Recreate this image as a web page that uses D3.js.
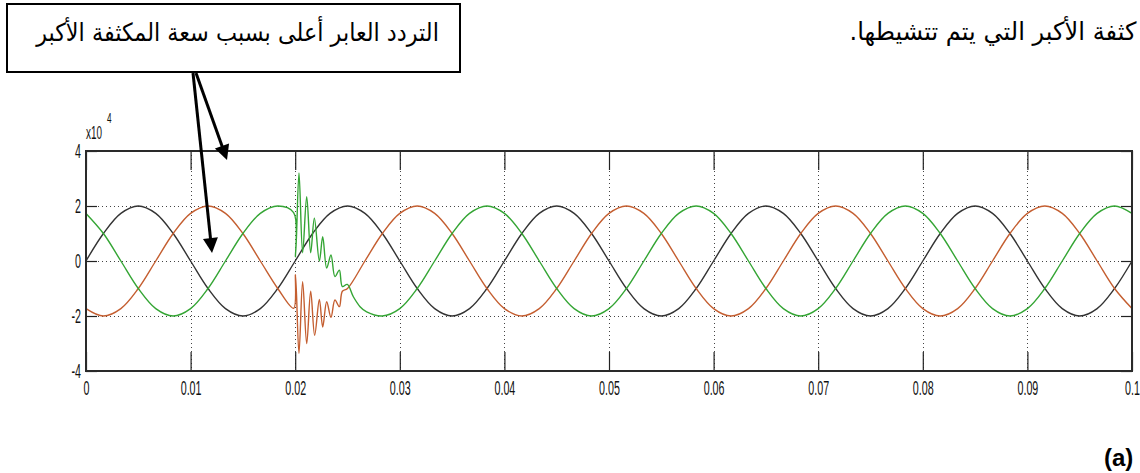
<!DOCTYPE html>
<html>
<head>
<meta charset="utf-8">
<script src="https://cdn.jsdelivr.net/npm/d3@7"></script>
<style>
  html, body { margin: 0; padding: 0; background: #fff; overflow: hidden; }
  svg { display: block; }
</style>
</head>
<body>
<svg id="chart" width="1140" height="473"></svg>
<script>
// Three-phase capacitor voltages (units of 10^4), one sample every 30 electrical degrees at 50 Hz
const sampleStep = 0.02 / 12;

const phaseA = [
  0, 1, 1.73, 2, 1.73, 1, 0, -1, -1.73, -2, -1.73, -1,
  0, 1, 1.73, 2, 1.73, 1, 0, -1, -1.73, -2, -1.73, -1,
  0, 1, 1.73, 2, 1.73, 1, 0, -1, -1.73, -2, -1.73, -1,
  0, 1, 1.73, 2, 1.73, 1, 0, -1, -1.73, -2, -1.73, -1,
  0, 1, 1.73, 2, 1.73, 1, 0, -1, -1.73, -2, -1.73, -1,
  0
];

const phaseB = [
  -1.73, -2, -1.73, -1, 0, 1, 1.73, 2, 1.73, 1, 0, -1,
  -1.73, -2, -1.73, -1, 0, 1, 1.73, 2, 1.73, 1, 0, -1,
  -1.73, -2, -1.73, -1, 0, 1, 1.73, 2, 1.73, 1, 0, -1,
  -1.73, -2, -1.73, -1, 0, 1, 1.73, 2, 1.73, 1, 0, -1,
  -1.73, -2, -1.73, -1, 0, 1, 1.73, 2, 1.73, 1, 0, -1,
  -1.73
];

const phaseC = [
  1.73, 1, 0, -1, -1.73, -2, -1.73, -1, 0, 1, 1.73, 2,
  1.73, 1, 0, -1, -1.73, -2, -1.73, -1, 0, 1, 1.73, 2,
  1.73, 1, 0, -1, -1.73, -2, -1.73, -1, 0, 1, 1.73, 2,
  1.73, 1, 0, -1, -1.73, -2, -1.73, -1, 0, 1, 1.73, 2,
  1.73, 1, 0, -1, -1.73, -2, -1.73, -1, 0, 1, 1.73, 2,
  1.73
];

// Switching transient when the larger capacitor is energised at t = 0.02 s: [time, value]
const phaseBTransient = [
  [0.01985, -1.72], [0.02003, -0.50], [0.02036, -3.36], [0.02071, -0.75],
  [0.02110, -3.00], [0.02148, -1.10], [0.02186, -2.70], [0.02231, -1.40],
  [0.02263, -2.40], [0.02301, -1.48], [0.02342, -2.05], [0.02380, -1.42],
  [0.02422, -1.66], [0.02451, -1.10]
];

const phaseCTransient = [
  [0.01985, 1.76], [0.02003, 0.15], [0.02036, 3.20], [0.02071, 0.30],
  [0.02110, 2.34], [0.02148, 0.30], [0.02183, 1.56], [0.02231, 0.00],
  [0.02263, 0.88], [0.02301, -0.26], [0.02342, 0.22], [0.02380, -0.57],
  [0.02422, -0.33], [0.02451, -0.93], [0.02498, -0.85], [0.02556, -1.30],
  [0.02620, -1.66], [0.02683, -1.85]
];

const xTicks = [0, 0.01, 0.02, 0.03, 0.04, 0.05, 0.06, 0.07, 0.08, 0.09, 0.1];
const xTickLabels = ["0", "0.01", "0.02", "0.03", "0.04", "0.05", "0.06", "0.07", "0.08", "0.09", "0.1"];
const yTicks = [-4, -2, 0, 2, 4];
const yTickLabels = ["-4", "-2", "0", "2", "4"];
const yExponent = "4";

const calloutText = "التردد العابر أعلى بسبب سعة المكثفة الأكبر";
const paragraphText = "كثفة الأكبر التي يتم تتشيطها.";
const panelLabel = "(a)";

const seriesColors = { A: "#333333", B: "#c45e30", C: "#34a534" };

// ---------------------------------------------------------------------------
const svg = d3.select("#chart");
const plot = { left: 86, right: 1132, top: 151, bottom: 371 };

const x = d3.scaleLinear().domain([0, 0.1]).range([plot.left, plot.right]);
const y = d3.scaleLinear().domain([-4, 4]).range([plot.bottom, plot.top]);

const labelFont = "'Liberation Sans', Arial, sans-serif";
const labelScale = 0.55;

// grid
const grid = svg.append("g").attr("stroke", "#444").attr("stroke-width", 1)
  .attr("stroke-dasharray", "1,3");
grid.selectAll("line.gx").data(xTicks.slice(1, -1)).join("line")
  .attr("x1", d => Math.round(x(d)) + 0.5).attr("x2", d => Math.round(x(d)) + 0.5)
  .attr("y1", plot.top).attr("y2", plot.bottom);
grid.selectAll("line.gy").data([-2, 0, 2]).join("line")
  .attr("x1", plot.left).attr("x2", plot.right)
  .attr("y1", d => Math.round(y(d)) + 0.5).attr("y2", d => Math.round(y(d)) + 0.5);

// axes with inward ticks
function styleAxis(g) {
  g.select(".domain").remove();
  g.selectAll(".tick line").attr("stroke", "#222").attr("stroke-width", 1.2);
  g.selectAll(".tick text").attr("fill", "#111")
    .style("font-family", labelFont).style("font-size", "19.5px");
}
const xAxisBottom = svg.append("g").attr("transform", `translate(0,${plot.bottom})`)
  .call(d3.axisBottom(x).tickValues(xTicks).tickFormat((d, i) => xTickLabels[i])
    .tickSizeInner(-19).tickSizeOuter(0).tickPadding(10));
styleAxis(xAxisBottom);
xAxisBottom.selectAll(".tick text").attr("transform", `scale(${labelScale},1)`);

const xAxisTop = svg.append("g").attr("transform", `translate(0,${plot.top})`)
  .call(d3.axisTop(x).tickValues(xTicks).tickFormat("").tickSizeInner(-19).tickSizeOuter(0));
styleAxis(xAxisTop);

const yAxisLeft = svg.append("g").attr("transform", `translate(${plot.left},0)`)
  .call(d3.axisLeft(y).tickValues(yTicks).tickFormat((d, i) => yTickLabels[i])
    .tickSizeInner(-11).tickSizeOuter(0).tickPadding(5));
styleAxis(yAxisLeft);
yAxisLeft.selectAll(".tick text")
  .attr("x", -5 / labelScale).attr("transform", `scale(${labelScale},1)`);

const yAxisRight = svg.append("g").attr("transform", `translate(${plot.right},0)`)
  .call(d3.axisRight(y).tickValues(yTicks).tickFormat("").tickSizeInner(-11).tickSizeOuter(0));
styleAxis(yAxisRight);

// exponent label
const expo = svg.append("g").attr("transform", `translate(${plot.left},139) scale(${labelScale},1)`)
  .style("font-family", labelFont).attr("fill", "#111");
expo.append("text").attr("x", 0).attr("y", 0).style("font-size", "18px").text("x10");
expo.append("text").attr("x", 38).attr("y", -16).style("font-size", "15px").text(yExponent);

// series
function buildSeries(values, transient) {
  const base = values.map((v, i) => [i * sampleStep, v]);
  if (!transient) return base;
  const t0 = transient[0][0], t1 = transient[transient.length - 1][0];
  return base.filter(d => d[0] < t0).concat(transient, base.filter(d => d[0] > t1));
}
const line = d3.line().x(d => x(d[0])).y(d => y(d[1])).curve(d3.curveCatmullRom.alpha(0.5));

const series = [
  { key: "A", data: buildSeries(phaseA) },
  { key: "B", data: buildSeries(phaseB, phaseBTransient) },
  { key: "C", data: buildSeries(phaseC, phaseCTransient) }
];
svg.append("g").selectAll("path").data(series).join("path")
  .attr("d", d => line(d.data))
  .attr("fill", "none")
  .attr("stroke", d => seriesColors[d.key])
  .attr("stroke-width", 1.4)
  .attr("stroke-linejoin", "round");

// frame
svg.append("rect")
  .attr("x", plot.left).attr("y", plot.top)
  .attr("width", plot.right - plot.left).attr("height", plot.bottom - plot.top)
  .attr("fill", "none").attr("stroke", "#2a2a2a").attr("stroke-width", 2);

// callout box with its text
svg.append("rect").attr("x", 7).attr("y", 4).attr("width", 453).attr("height", 68)
  .attr("fill", "#fff").attr("stroke", "#000").attr("stroke-width", 2);

const arabicFont = "'DejaVu Sans', 'Noto Sans', sans-serif";
const arabicSize = 25;

function fittedText(str, cx, baseline, width) {
  const t = svg.append("text")
    .attr("direction", "rtl")
    .attr("text-anchor", "middle")
    .style("font-family", arabicFont).style("font-size", arabicSize + "px")
    .attr("fill", "#000").text(str);
  const s = width / t.node().getComputedTextLength();
  t.attr("transform", `translate(${cx},${baseline}) scale(${s},1)`);
  return t;
}
fittedText(calloutText, 237.5, 41, 403);

// paragraph continuation text
fittedText(paragraphText, (849 + 1137) / 2, 40, 287);

// arrows from the callout to the curves
function arrow(x0, y0, x1, y1) {
  const dx = x1 - x0, dy = y1 - y0, len = Math.hypot(dx, dy);
  const ux = dx / len, uy = dy / len, headLen = 15, half = 7.5;
  const bx = x1 - ux * headLen, by = y1 - uy * headLen;
  svg.append("line").attr("x1", x0).attr("y1", y0).attr("x2", bx + ux * 2).attr("y2", by + uy * 2)
    .attr("stroke", "#000").attr("stroke-width", 3);
  svg.append("path")
    .attr("d", `M${x1},${y1}L${bx - uy * half},${by + ux * half}L${bx + uy * half},${by - ux * half}Z`)
    .attr("fill", "#000");
}
arrow(196, 73, x(0.01348), y(3.67));
arrow(193, 73, x(0.01205), y(0.29));

// panel label
svg.append("text").attr("x", 1104).attr("y", 466)
  .style("font-family", labelFont).style("font-size", "24px").style("font-weight", "bold")
  .attr("fill", "#000").text(panelLabel);
</script>
</body>
</html>
